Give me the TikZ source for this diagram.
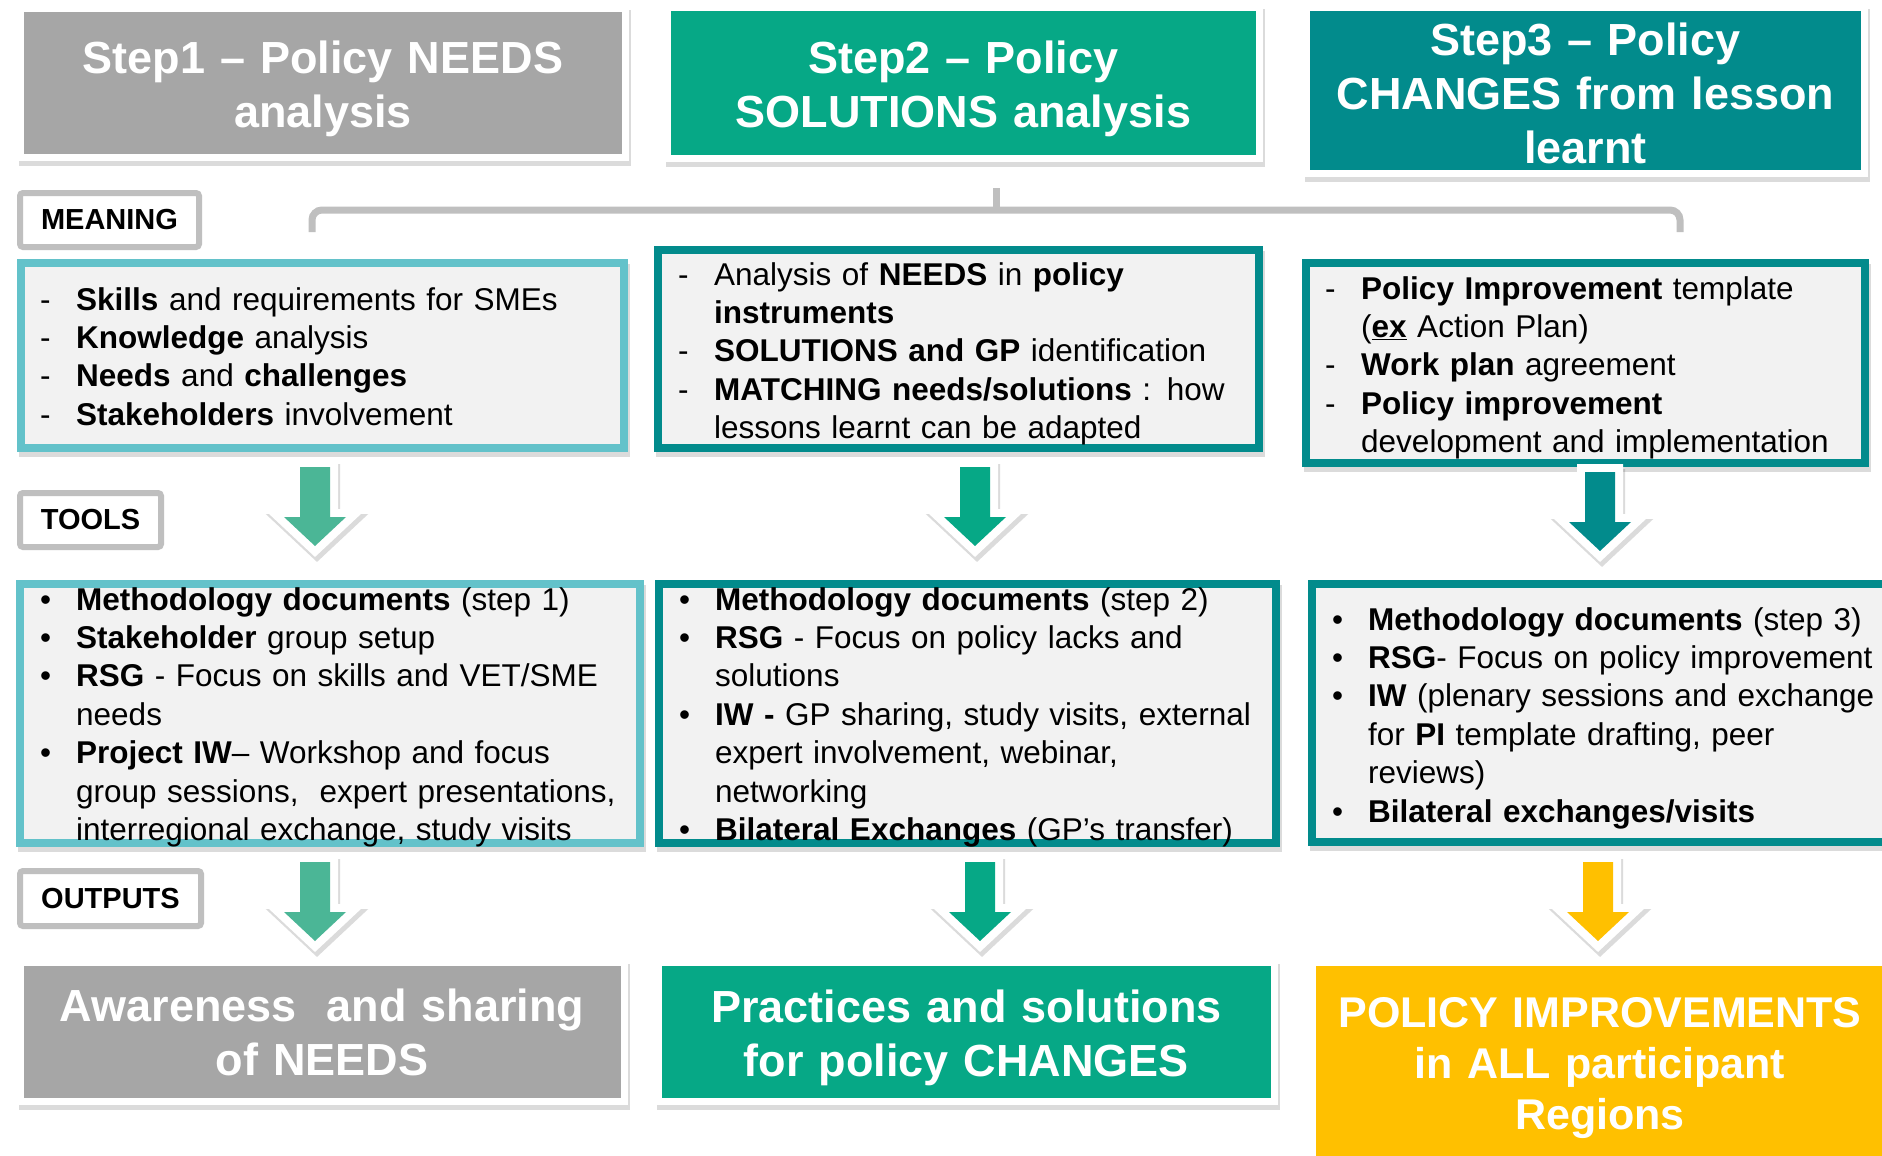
\documentclass[tikz,border=0pt]{standalone}
\usepackage{fontspec}
\setmainfont{Liberation Sans}
\definecolor{boxgray}{HTML}{A6A6A6}
\definecolor{solgreen}{HTML}{06A886}
\definecolor{stepteal}{HTML}{028B8C}
\definecolor{lightcyan}{HTML}{63C2CA}
\definecolor{arrgreen}{HTML}{4BB696}
\definecolor{gold}{HTML}{FFC000}
\definecolor{labgray}{HTML}{BFBFBF}
\definecolor{panel}{HTML}{F2F2F2}
\newcommand{\dsh}{\makebox[36pt][l]{-}}
\newcommand{\bul}{\makebox[36pt][l]{\textbullet}}
\newcommand{\contline}{\hspace*{36pt}}
\newcommand{\lift}[1]{\rule{0pt}{#1}}

\begin{document}
\begin{tikzpicture}[x=1pt,y=-1pt,
  shadowline/.style={draw=black,opacity=.14,line width=#1,transform canvas={xshift=2pt,yshift=-5pt}},
  headbox/.style={fill=#1,text=white,inner sep=0pt,align=center,
    font=\fontsize{45}{54}\selectfont\bfseries,
    preaction={shadowline=14pt},preaction={draw=white,line width=14pt}},
  panelbox/.style={draw=#1,line width=8pt,fill=panel,inner sep=0pt,
    preaction={shadowline=8pt}},
  tag/.style={draw=labgray,line width=6pt,fill=white,rounded corners=3pt,inner sep=0pt,
    font=\fontsize{29}{34}\selectfont\bfseries},
  bodytext/.style={anchor=base west,inner sep=0pt,text width=640pt,align=left,
    font=\fontsize{31.5}{38.4}\selectfont},
  bracket/.style={draw=labgray,line width=7pt,rounded corners=10pt},
  arrbody/.style={fill=#1,preaction={shadowline=16pt},preaction={draw=white,line width=16pt}},
  pics/downarr/.style={code={
    \path[arrbody=#1] (-15,0) -- (15,0) -- (15,50) -- (31,50) -- (0,79)
      -- (-31,50) -- (-15,50) -- cycle;}}
  ]
  \useasboundingbox (0,0) rectangle (1882,1156);
  \clip (0,0) rectangle (1882,1156);
  \fill[white] (0,0) rectangle (1882,1156);

  \node[headbox=boxgray,text width=598pt,minimum height=142pt] (s1) at (323,83) {\lift{44pt}Step1 – Policy NEEDS\\analysis};
  \node[headbox=solgreen,text width=585pt,minimum height=143pt] (s2) at (963.5,83) {\lift{44pt}Step2 – Policy\\SOLUTIONS analysis};
  \node[headbox=stepteal,text width=551pt,minimum height=159pt] (s3) at (1585.5,90.5) {\lift{38pt}Step3 – Policy\\CHANGES from lesson\\learnt};

  \coordinate (brk) at (996,188);
  \coordinate (brm) at (996,210);
  \coordinate (brl) at (312,232);
  \coordinate (brr) at (1680,232);
  \draw[bracket] (brl) |- (brm) -| (brr);
  \draw[bracket] (brk) -- (brm);

  \node[tag,minimum width=179pt,minimum height=54pt] (meaning) at (109.5,220) {MEANING};
  \node[tag,minimum width=141pt,minimum height=54pt] (tools) at (90.5,520) {TOOLS};
  \node[tag,minimum width=181pt,minimum height=55pt] (outputs) at (110.5,898.5) {OUTPUTS};

  \node[panelbox=lightcyan,minimum width=603pt,minimum height=185pt] (m1) at (322.5,355.5) {};
  \node[panelbox=stepteal,minimum width=601pt,minimum height=198pt] (m2) at (958.5,349) {};
  \node[panelbox=stepteal,minimum width=559pt,minimum height=200pt] (m3) at (1585.5,363) {};
  \node[panelbox=lightcyan,minimum width=620pt,minimum height=259pt] (t1) at (330,713.5) {};
  \node[panelbox=stepteal,minimum width=617pt,minimum height=259pt] (t2) at (967.5,713.5) {};
  \node[panelbox=stepteal,minimum width=576pt,minimum height=258pt] (t3) at (1600,713) {};

  \node[headbox=boxgray,text width=597pt,minimum height=132pt] (o1) at (322,1032) {Awareness\ \ and sharing\\of NEEDS};
  \node[headbox=solgreen,text width=609pt,minimum height=132pt] (o2) at (966.5,1032) {\lift{44pt}Practices and solutions\\for policy CHANGES};
  \node[headbox=gold,text width=568pt,minimum height=200pt,font=\fontsize{43}{51}\selectfont\bfseries] (o3) at (1600,1066) {\lift{35pt}POLICY IMPROVEMENTS\\in ALL participant\\Regions};

  \coordinate (a1) at (315,467);
  \coordinate (a2) at (975,467);
  \coordinate (a3) at (1600,472);
  \coordinate (b1) at (315,862);
  \coordinate (b2) at (980,862);
  \coordinate (b3) at (1598,862);
  \pic at (a1) {downarr=arrgreen};
  \pic at (a2) {downarr=solgreen};
  \pic at (a3) {downarr=stepteal};
  \pic at (b1) {downarr=arrgreen};
  \pic at (b2) {downarr=solgreen};
  \pic at (b3) {downarr=gold};

  \node[bodytext] (m1txt) at (40,310) {\dsh\textbf{Skills} and requirements for SMEs\\
    \dsh\textbf{Knowledge} analysis\\
    \dsh\textbf{Needs} and \textbf{challenges}\\
    \dsh\textbf{Stakeholders} involvement};
  \node[bodytext] (m2txt) at (678,285) {\dsh Analysis of \textbf{NEEDS} in \textbf{policy}\\
    \contline\textbf{instruments}\\
    \dsh\textbf{SOLUTIONS and GP} identification\\
    \dsh\textbf{MATCHING needs/solutions} : how\\
    \contline lessons learnt can be adapted};
  \node[bodytext] (m3txt) at (1325,299) {\dsh\textbf{Policy Improvement} template\\
    \contline(\textbf{\underline{ex}} Action Plan)\\
    \dsh\textbf{Work plan} agreement\\
    \dsh\textbf{Policy improvement}\\
    \contline development and implementation};

  \node[bodytext] (t1txt) at (40,610) {\bul\textbf{Methodology documents} (step 1)\\
    \bul\textbf{Stakeholder} group setup\\
    \bul\textbf{RSG} - Focus on skills and VET/SME\\
    \contline needs\\
    \bul\textbf{Project IW}– Workshop and focus\\
    \contline group sessions,\ \ expert presentations,\\
    \contline interregional exchange, study visits};
  \node[bodytext] (t2txt) at (679,610) {\bul\textbf{Methodology documents} (step 2)\\
    \bul\textbf{RSG} - Focus on policy lacks and\\
    \contline solutions\\
    \bul\textbf{IW -} GP sharing, study visits, external\\
    \contline expert involvement, webinar,\\
    \contline networking\\
    \bul\textbf{Bilateral Exchanges} (GP’s transfer)};
  \node[bodytext] (t3txt) at (1332,630) {\bul\textbf{Methodology documents} (step 3)\\
    \bul\textbf{RSG}- Focus on policy improvement\\
    \bul\textbf{IW} (plenary sessions and exchange\\
    \contline for \textbf{PI} template drafting, peer\\
    \contline reviews)\\
    \bul\textbf{Bilateral exchanges/visits}};
\end{tikzpicture}
\end{document}
